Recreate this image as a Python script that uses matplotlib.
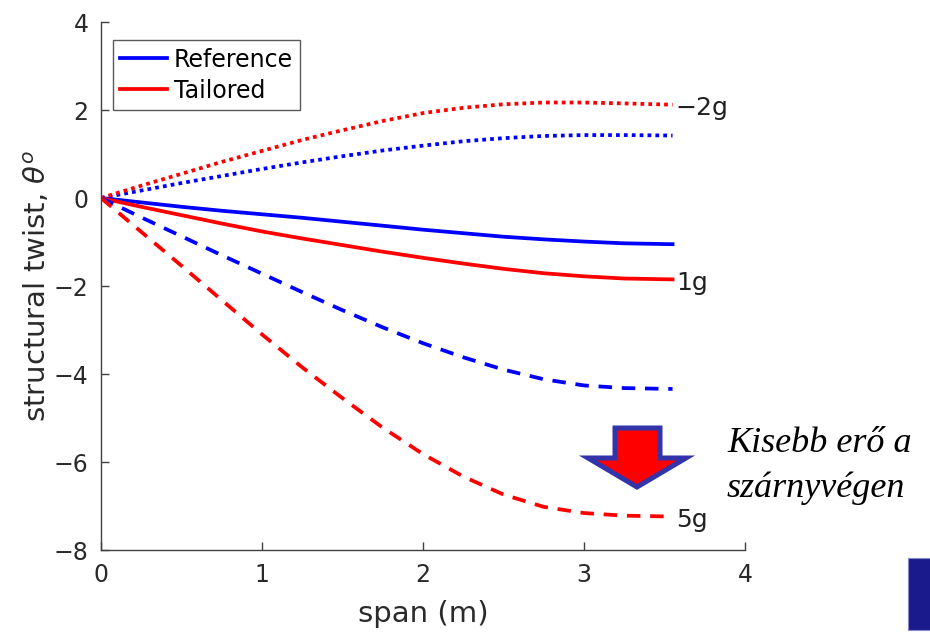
import matplotlib
matplotlib.use("Agg")
import matplotlib.pyplot as plt
from matplotlib.patches import Polygon, Rectangle

# span stations (m)
span = [0, 0.25, 0.5, 0.75, 1.0, 1.25, 1.5, 1.75, 2.0, 2.25, 2.5, 2.75, 3.0, 3.25, 3.55]

# structural twist (deg), reference wing
ref_m2g = [0, 0.17, 0.34, 0.50, 0.66, 0.81, 0.95, 1.08, 1.19, 1.29, 1.36, 1.41, 1.43, 1.43, 1.42]
ref_1g = [0, -0.10, -0.20, -0.29, -0.37, -0.45, -0.54, -0.63, -0.72, -0.80, -0.88, -0.94, -0.99, -1.03, -1.05]
ref_5g = [0, -0.44, -0.87, -1.30, -1.72, -2.14, -2.55, -2.94, -3.30, -3.62, -3.90, -4.12, -4.26, -4.32, -4.34]

# structural twist (deg), tailored wing
tail_m2g = [0, 0.28, 0.55, 0.82, 1.07, 1.32, 1.54, 1.75, 1.93, 2.05, 2.13, 2.17, 2.17, 2.15, 2.12]
tail_1g = [0, -0.20, -0.39, -0.58, -0.76, -0.92, -1.07, -1.22, -1.36, -1.49, -1.61, -1.71, -1.78, -1.83, -1.85]
tail_5g = [0, -0.77, -1.54, -2.32, -3.10, -3.85, -4.55, -5.22, -5.82, -6.33, -6.74, -7.02, -7.16, -7.22, -7.24]

load_labels = ["\u22122g", "1g", "5g"]
xticks = [0, 1, 2, 3, 4]
yticks = [-8, -6, -4, -2, 0, 2, 4]

plt.rcParams['font.family'] = 'DejaVu Sans'
axis_col = '#404040'
dotted = (0, (1.0, 1.1))
dashed = (0, (3.6, 2.6))
lw = 2.7

fig = plt.figure(figsize=(9.3, 6.33), dpi=100)
ax = fig.add_axes([101 / 930, 83 / 633, 644 / 930, 528 / 633])

ax.plot(span, ref_1g, color='#0000ff', lw=lw, label='Reference')
ax.plot(span, tail_1g, color='#ff0000', lw=lw, label='Tailored')
ax.plot(span, ref_m2g, color='#0000ff', lw=lw, linestyle=dotted)
ax.plot(span, tail_m2g, color='#ff0000', lw=lw, linestyle=dotted)
ax.plot(span, ref_5g, color='#0000ff', lw=lw, linestyle=dashed)
ax.plot(span, tail_5g, color='#ff0000', lw=lw, linestyle=dashed)

# load case tags at the tip of the tailored curves
for lab, ys in zip(load_labels, [tail_m2g, tail_1g, tail_5g]):
    ax.text(span[-1] + 0.02, ys[-1] - 0.08, lab, fontsize=18, color='#202020',
            ha='left', va='center')

ax.set_xlim(0, 4)
ax.set_ylim(-8, 4)
ax.set_xticks(xticks)
ax.set_yticks(yticks)
ax.set_yticklabels([str(t).replace('-', '\u2212') for t in yticks])
ax.spines['top'].set_visible(False)
ax.spines['right'].set_visible(False)
for s in ('left', 'bottom'):
    ax.spines[s].set_color(axis_col)
    ax.spines[s].set_linewidth(1.0)
ax.tick_params(direction='in', length=6, width=1.0, color=axis_col,
               labelsize=17, labelcolor='#2a2a2a', pad=9)
ax.set_xlabel('span (m)', fontsize=21, color='#2a2a2a', labelpad=10)
ax.set_ylabel(r'structural twist, $\theta^o$', fontsize=21, color='#2a2a2a', labelpad=1)

leg = ax.legend(loc='upper left', bbox_to_anchor=(0.018, 0.965), fontsize=17,
                frameon=True, fancybox=False, handlelength=2.0, handletextpad=0.3,
                borderpad=0.3, labelspacing=0.3, borderaxespad=0)
leg.get_frame().set_edgecolor('#303030')
leg.get_frame().set_linewidth(1.0)

# downward arrow next to the wing-tip note
arrow_px = [(615, 428), (660, 428), (660, 458), (686, 458), (637, 487),
            (588, 458), (615, 458)]
fig.patches.append(Polygon([(x / 930, 1 - y / 633) for x, y in arrow_px], closed=True,
                           transform=fig.transFigure, facecolor='#ff0000',
                           edgecolor='#3333aa', linewidth=3.6, joinstyle='miter'))

fig.text(727 / 930, 1 - 497 / 633, 'Kisebb erő a\nszárnyvégen', fontsize=26,
         family='Liberation Serif', style='italic', color='black',
         ha='left', va='baseline', linespacing=1.45)

fig.patches.append(Rectangle((908 / 930, 1 - 630 / 633), 30 / 930, 72 / 633,
                             transform=fig.transFigure, facecolor='#1a1a8c',
                             edgecolor='#8888cc', linewidth=0.8))

fig.savefig('out.png', dpi=100)
